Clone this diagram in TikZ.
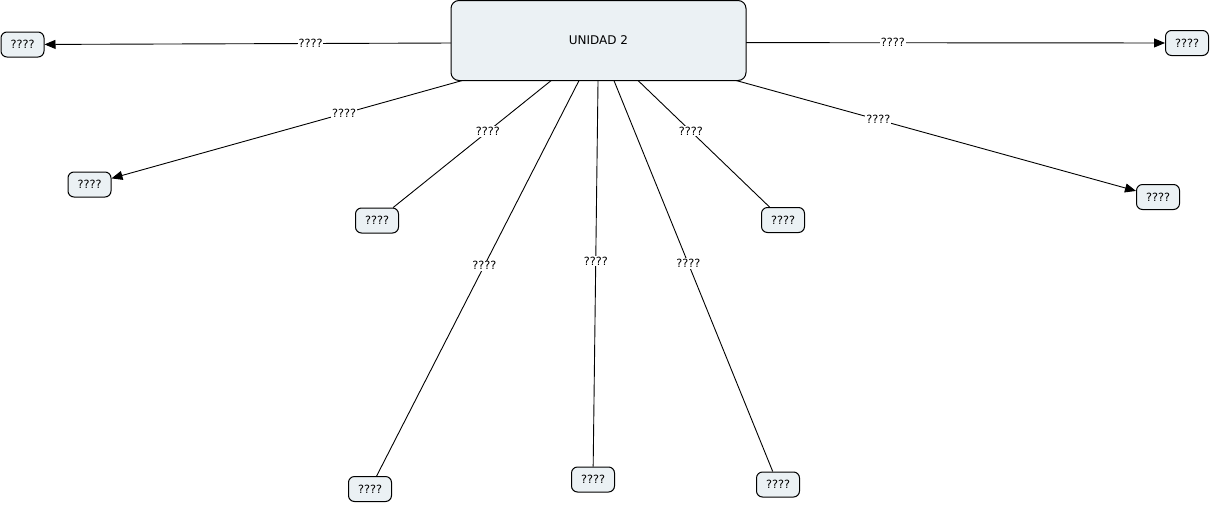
\documentclass[tikz,border=0pt]{standalone}
\usepackage{fontspec}
\setmainfont{DejaVu Sans}
\usetikzlibrary{arrows.meta,calc}
\definecolor{boxfill}{HTML}{EBF1F4}
\tikzset{
  concept/.style={draw=black, line width=1pt, fill=boxfill, rounded corners=6pt,
    minimum width=43pt, minimum height=25pt, inner sep=0pt, font=\fontsize{11.3}{13}\selectfont},
  mainbox/.style={concept, rounded corners=8pt, minimum width=295pt, minimum height=80pt, font=\fontsize{12}{14}\selectfont},
  lbl/.style={fill=white, inner sep=1pt, font=\fontsize{11.3}{13}\selectfont},
  conn/.style={line width=0.9pt},
  arr/.style={conn, -{Triangle[length=11pt,width=9pt]}}
}
\begin{document}
\begin{tikzpicture}[x=1pt,y=-1pt]
\useasboundingbox (0,0) rectangle (1210,504);
\coordinate (hub) at (598.5,42.5);
\node[concept] (n1) at (22.5,44.5) {????};
\node[concept] (n2) at (89.5,184.5) {????};
\node[concept] (n3) at (377,220.5) {????};
\node[concept] (n4) at (370,489) {????};
\node[concept] (n5) at (593,479.5) {????};
\node[concept] (n6) at (778,484.5) {????};
\node[concept] (n7) at (783,220) {????};
\node[concept] (n8) at (1158,197) {????};
\node[concept] (n9) at (1187,43) {????};
\draw[arr] (hub) -- (n1);
\draw[arr] (hub) -- (n2);
\draw[conn] (hub) -- (n3);
\draw[conn] (hub) -- (n4);
\draw[conn] (hub) -- (n5);
\draw[conn] (hub) -- (n6);
\draw[conn] (hub) -- (n7);
\draw[arr] (hub) -- (n8);
\draw[arr] (hub) -- (n9);
\node[mainbox] (main) at (598.5,40.5) {UNIDAD 2};
\foreach \n in {1,...,9}{
  \node[lbl] (l\n) at ($(hub)!0.5!(n\n.center)$) {????};
}
\end{tikzpicture}
\end{document}
